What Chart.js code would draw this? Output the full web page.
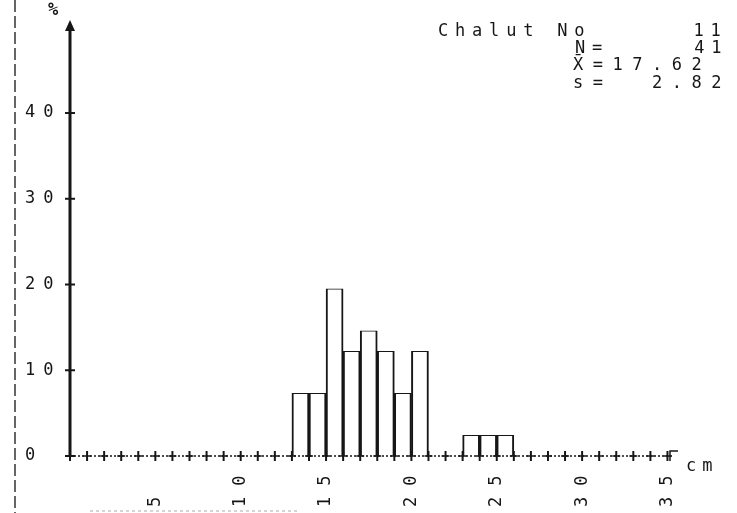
<!DOCTYPE html>
<html>
<head>
<meta charset="utf-8">
<script src="https://cdn.jsdelivr.net/npm/chart.js@4/dist/chart.umd.min.js"></script>
<style>
  html, body { margin: 0; padding: 0; background: #fff; }
  #wrap { width: 737px; height: 513px; }
</style>
</head>
<body>
<div id="wrap"><canvas id="histChart" width="737" height="513"></canvas></div>
<script>
// length classes (cm, lower bound) and share of the catch in %
const binStart = [13, 14, 15, 16, 17, 18, 19, 20, 21, 22, 23, 24, 25];
const percent = [7.3, 7.3, 19.5, 12.2, 14.6, 12.2, 7.3, 12.2, null, null, 2.4, 2.4, 2.4];
const xTickLabels = [5, 10, 15, 20, 25, 30, 35];
const yTickLabels = [0, 10, 20, 30, 40];
const titleLine = 'Chalut No      11';
const statLines = ['N=     41', 'X\u0304=17.62', 's=  2.82'];

const INK = '#161616';
const MONO = '"DejaVu Sans Mono", "Liberation Mono", monospace';

// draws axes, ticks and printed labels the way the old printer did
const printPlugin = {
  id: 'printPlugin',
  afterDraw(chart) {
    const { ctx, scales: { x, y } } = chart;
    const x0 = x.getPixelForValue(0);
    const y0 = y.getPixelForValue(0);
    const yTop = y.getPixelForValue(y.max);
    ctx.save();

    // paper edge on the left
    ctx.strokeStyle = '#333';
    ctx.lineWidth = 1.5;
    ctx.setLineDash([12, 4]);
    ctx.beginPath(); ctx.moveTo(15, 0); ctx.lineTo(15, 513); ctx.stroke();
    ctx.strokeStyle = '#aaa';
    ctx.lineWidth = 1;
    ctx.setLineDash([3, 3]);
    ctx.beginPath(); ctx.moveTo(90, 511); ctx.lineTo(300, 511); ctx.stroke();

    // y axis
    ctx.setLineDash([]);
    ctx.strokeStyle = INK;
    ctx.lineWidth = 3;
    ctx.beginPath(); ctx.moveTo(x0, y0); ctx.lineTo(x0, yTop + 4); ctx.stroke();
    ctx.fillStyle = INK;
    ctx.beginPath();
    ctx.moveTo(x0, yTop - 3); ctx.lineTo(x0 - 5, yTop + 8); ctx.lineTo(x0 + 5, yTop + 8);
    ctx.closePath(); ctx.fill();

    // x axis (dotted) with end hook
    const xEnd = x.getPixelForValue(x.max);
    ctx.lineWidth = 1.3;
    ctx.setLineDash([2, 2]);
    ctx.beginPath(); ctx.moveTo(x0, y0); ctx.lineTo(xEnd - 4, y0); ctx.stroke();
    ctx.setLineDash([]);
    ctx.lineWidth = 1.5;
    ctx.beginPath();
    ctx.moveTo(xEnd - 6, y0 + 5); ctx.lineTo(xEnd - 6, y0 - 5); ctx.lineTo(xEnd + 2, y0 - 5);
    ctx.stroke();

    // "+" ticks each cm
    for (let v = 0; v <= 35; v++) {
      const px = x.getPixelForValue(v);
      ctx.lineWidth = 2;
      ctx.beginPath(); ctx.moveTo(px, y0 - 5); ctx.lineTo(px, y0 + 5); ctx.stroke();
      ctx.lineWidth = 1.5;
      ctx.beginPath(); ctx.moveTo(px - 4, y0); ctx.lineTo(px + 4, y0); ctx.stroke();
    }
    // y ticks
    yTickLabels.forEach(v => {
      const py = y.getPixelForValue(v);
      ctx.lineWidth = 2;
      ctx.beginPath(); ctx.moveTo(x0 - 5, py); ctx.lineTo(x0 + 5, py); ctx.stroke();
    });

    // tick labels
    ctx.fillStyle = INK;
    ctx.font = '17px ' + MONO;
    ctx.textBaseline = 'middle';
    ctx.textAlign = 'left';
    ctx.letterSpacing = '8px';
    yTickLabels.forEach(v => {
      ctx.fillText(String(v), 25, y.getPixelForValue(v));
    });
    ctx.letterSpacing = '11px';
    xTickLabels.forEach(v => {
      ctx.save();
      ctx.translate(x.getPixelForValue(v), 507);
      ctx.rotate(-Math.PI / 2);
      ctx.fillText(String(v), 0, 0);
      ctx.restore();
    });

    // unit labels
    ctx.letterSpacing = '6px';
    ctx.fillText('cm', 686, y0 + 11);
    ctx.letterSpacing = '0px';
    ctx.font = 'bold 17px ' + MONO;
    ctx.fillText('%', 48, 11);

    // header block
    ctx.font = '17px ' + MONO;
    ctx.letterSpacing = '6.8px';
    ctx.fillText(titleLine, 438, 32);
    ctx.fillText(statLines[0], 575, 49);
    ctx.letterSpacing = '9.5px';
    ctx.fillText(statLines[1], 573, 66);
    ctx.fillText(statLines[2], 573, 84);
    ctx.restore();
  }
};

new Chart(document.getElementById('histChart'), {
  type: 'bar',
  data: {
    datasets: [{
      data: binStart.map((b, i) => ({ x: b + 0.5, y: percent[i] })),
      backgroundColor: '#ffffff',
      borderColor: INK,
      borderWidth: { left: 2, right: 2, top: 1, bottom: 0 },
      borderSkipped: false,
      barPercentage: 1,
      categoryPercentage: 1
    }]
  },
  options: {
    responsive: false,
    devicePixelRatio: 1,
    animation: false,
    layout: { padding: { left: 70, right: 61, top: 23, bottom: 57 } },
    plugins: { legend: { display: false }, tooltip: { enabled: false } },
    scales: {
      x: { type: 'linear', min: 0, max: 35.5, offset: false, display: false },
      y: { min: 0, max: 50.5, display: false }
    }
  },
  plugins: [printPlugin]
});
</script>
</body>
</html>
